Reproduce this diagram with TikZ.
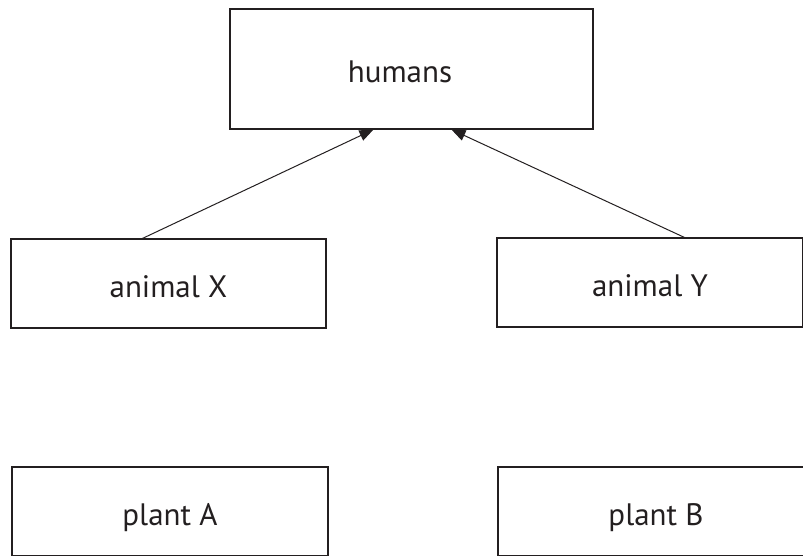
\documentclass[tikz,border=0pt]{standalone}
\usepackage{fontspec}
\setmainfont{PT Sans}
\usetikzlibrary{arrows.meta,calc}
\definecolor{ink}{RGB}{35,31,32}
\begin{document}
\begin{tikzpicture}[x=1pt,y=1pt,
  box/.style={draw=ink, line width=1.1pt, fill=none, inner sep=0pt,
    text=ink, font=\fontsize{31}{36}\selectfont,
    text height=28pt, text depth=0pt},
  arr/.style={draw=ink, line width=1pt, -{Triangle[length=14pt,width=11pt]}}]
\useasboundingbox (0,0) rectangle (803,556);
\clip (0,0) rectangle (803,556);
% humans: x 230-593, y 9-129 (image coords)
\node[box, minimum width=363pt, minimum height=120pt] (hum) at (411.5,487) {humans\rule{23pt}{0pt}};
% animal X: 11-326, 239-328
\node[box, minimum width=315pt, minimum height=89pt] (ax) at (168.5,272.5) {animal X};
% animal Y: 497-~805
\node[box, minimum width=306pt, minimum height=89pt] (ay) at (650,273.5) {animal Y};
% plant A
\node[box, minimum width=316pt, minimum height=89pt] (pa) at (170,44.5) {plant A};
% plant B
\node[box, minimum width=316pt, minimum height=89pt] (pb) at (656,44.5) {plant B};
\draw[arr] ($(ax.north west)+(132,0)$) -- ($(hum.south west)+(144,0)$);
\draw[arr] ($(ay.north west)+(188,0)$) -- ($(hum.south west)+(222,0)$);
\end{tikzpicture}
\end{document}
